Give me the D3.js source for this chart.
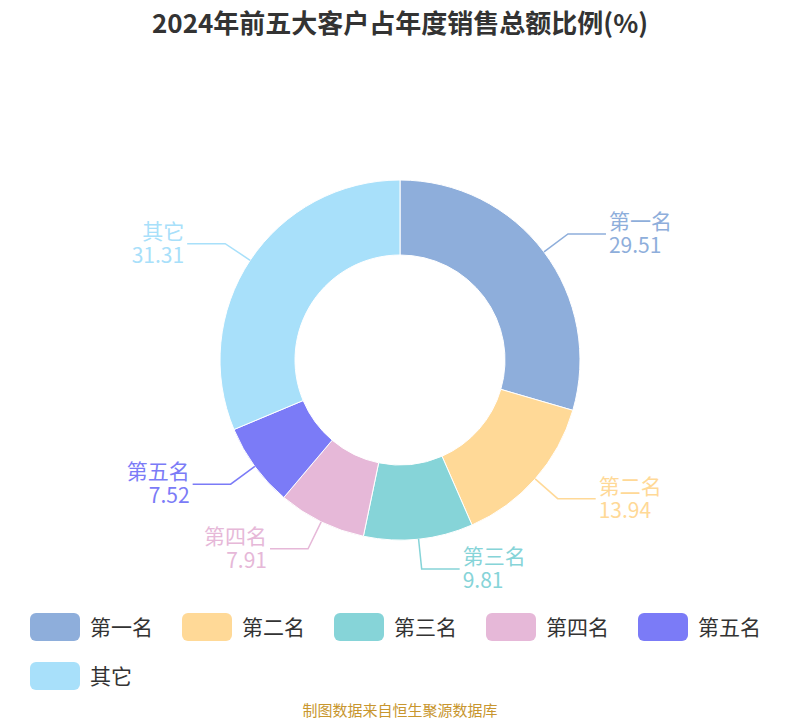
<!DOCTYPE html>
<html><head><meta charset="utf-8">
<script src="https://cdn.jsdelivr.net/npm/d3@7/dist/d3.min.js"></script>
<style>body{margin:0;background:#fff}</style>
</head><body><svg id="c" width="800" height="720"></svg>
<script>
const categories = ["第一名","第二名","第三名","第四名","第五名","其它"];
const values = [29.51,13.94,9.81,7.91,7.52,31.31];
const colors = ["#8eaedb","#ffd997","#86d4d8","#e6b8d8","#7b7bf7","#a8e0fa"];
const svg = d3.select("#c");
const font = "'Noto Sans CJK SC','Noto Sans',sans-serif";
svg.append("text").attr("x",400).attr("y",33).attr("text-anchor","middle")
  .attr("font-family",font).attr("font-weight","bold").attr("font-size",26).attr("fill","#333")
  .text("2024年前五大客户占年度销售总额比例(%)");
const cx=400, cy=360, R=180, r=105;
const data = categories.map((c,i)=>({name:c,value:values[i],color:colors[i]}));
const pie = d3.pie().value(d=>d.value).sort(null);
const arc = d3.arc().innerRadius(r).outerRadius(R);
const g = svg.append("g").attr("transform",`translate(${cx},${cy})`);
const arcs = pie(data);
g.selectAll("path").data(arcs).join("path").attr("d",arc).attr("fill",d=>d.data.color)
  .attr("stroke","#fff").attr("stroke-width",1);
arcs.forEach(a=>{
  const m=(a.startAngle+a.endAngle)/2;
  const sx=Math.sin(m), sy=-Math.cos(m);
  const p0=[sx*R, sy*R], p1=[sx*(R+30), sy*(R+30)];
  const right = sx>=0;
  const p2=[p1[0]+(right?38:-38), p1[1]];
  g.append("polyline").attr("points",[p0,p1,p2].map(p=>p.join(",")).join(" "))
    .attr("fill","none").attr("stroke",a.data.color).attr("stroke-width",1.5);
  const tx=p2[0]+(right?3:-3);
  const t=g.append("text").attr("text-anchor",right?"start":"end").attr("font-family",font)
    .attr("font-size",21).attr("fill",a.data.color);
  t.append("tspan").attr("x",tx).attr("y",p2[1]-5).text(a.data.name);
  t.append("tspan").attr("x",tx).attr("y",p2[1]+19).text(a.data.value.toFixed(2));
});
const lg = svg.append("g");
data.forEach((d,i)=>{
  const x=30+(i%5)*152, y=613+Math.floor(i/5)*49;
  lg.append("rect").attr("x",x).attr("y",y).attr("width",50).attr("height",28).attr("rx",6).attr("fill",d.color);
  lg.append("text").attr("x",x+60).attr("y",y+22).attr("font-family",font).attr("font-size",21)
    .attr("fill","#333").text(d.name);
});
svg.append("text").attr("x",400).attr("y",716).attr("text-anchor","middle").attr("font-family",font)
  .attr("font-size",15).attr("fill","#c8962e").text("制图数据来自恒生聚源数据库");
</script></body></html>
